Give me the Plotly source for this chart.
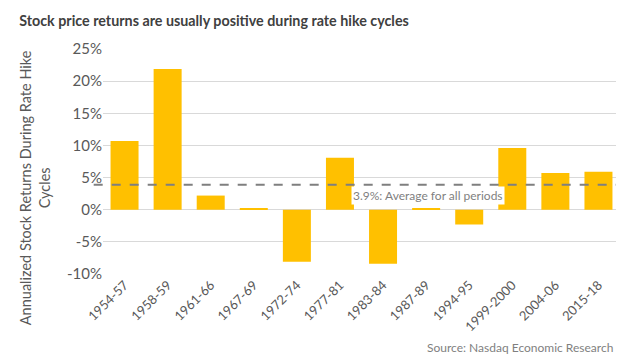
import plotly.graph_objects as go

periods = ["1954-57", "1958-59", "1961-66", "1967-69", "1972-74", "1977-81",
           "1983-84", "1987-89", "1994-95", "1999-2000", "2004-06", "2015-18"]
returns = [10.7, 21.9, 2.2, 0.2, -8.1, 8.1, -8.4, 0.2, -2.3, 9.6, 5.7, 5.9]
average = 3.9
y_ticks = [-10, -5, 0, 5, 10, 15, 20, 25]
y_labels = [f"{v}%" for v in y_ticks]

font_family = "Lato, Open Sans, sans-serif"

fig = go.Figure()
fig.add_trace(go.Bar(x=periods, y=returns, marker_color="#FFC000",
                     marker_line_width=0, showlegend=False))

fig.add_shape(type="line", xref="paper", yref="y", x0=-0.018, x1=1,
              y0=average, y1=average,
              line=dict(color="#7F7F7F", width=2, dash="dash"))
fig.add_annotation(xref="paper", yref="y", x=0.629, y=average, yshift=-11,
                   text=f"{average}%: Average for all periods", showarrow=False,
                   bgcolor="white", borderpad=1,
                   font=dict(size=12, color="#7F7F7F", family=font_family))

fig.add_annotation(xref="paper", yref="paper", x=0.99, y=-0.325, xanchor="right",
                   yanchor="middle",
                   text="Source: Nasdaq Economic Research", showarrow=False,
                   font=dict(size=12, color="#7F7F7F", family=font_family))

fig.add_annotation(xref="paper", yref="paper", x=-0.13, y=0.385,
                   xanchor="center", yanchor="middle", textangle=-90,
                   text="Annualized Stock Returns During Rate Hike<br>Cycles",
                   showarrow=False,
                   font=dict(size=14.5, color="#595959", family=font_family))

fig.update_layout(
    width=624, height=360,
    margin=dict(l=95, r=12, t=41, b=94),
    paper_bgcolor="white", plot_bgcolor="white",
    bargap=0.35,
    title=dict(text="<b>Stock price returns are usually positive during rate hike cycles</b>",
               x=0.018, xanchor="left", y=0.963, yanchor="middle",
               font=dict(size=14.3, color="#404040", family=font_family)),
    font=dict(family=font_family, color="#595959"),
)
fig.update_yaxes(range=[-10, 25], tickvals=y_ticks, ticktext=y_labels,
                 automargin=False,
                 showgrid=True, gridcolor="#D9D9D9", gridwidth=1, zeroline=True,
                 zerolinecolor="#D9D9D9", zerolinewidth=1,
                 tickfont=dict(size=15, color="#595959"), ticks="", ticklen=0)
fig.update_xaxes(type="category", tickangle=-45, automargin=False,
                 tickfont=dict(size=13, color="#595959"),
                 showline=False, ticks="")

fig.write_html("out.html")
